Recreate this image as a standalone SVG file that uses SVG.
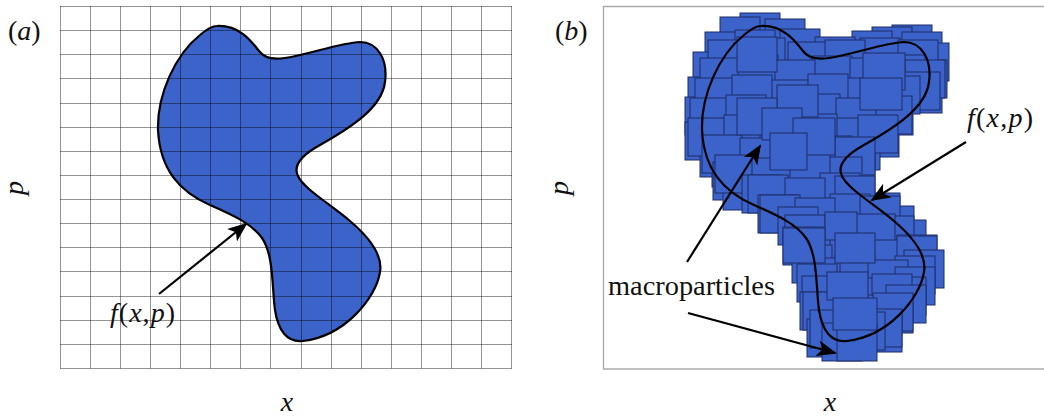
<svg xmlns="http://www.w3.org/2000/svg" width="1044" height="419" viewBox="0 0 1044 419">
<style>
.t{font-family:"Liberation Serif","Times New Roman",serif;font-size:28px;fill:#111}
.i{font-style:italic}
.grid{stroke:#000;stroke-opacity:0.42;stroke-width:1;fill:none}
.mp rect{fill:#3B63C9;stroke:#1E2D66;stroke-width:1}
.con{stroke:#000;stroke-width:2.2;fill:none}
</style>
<defs>
<path id="blob" d="M217,26 C240,25 252,42 259,51 C264,58 272,60 285,58 C310,54 340,43 360,42 C378,42 388,60 385,82 C382,108 350,128 320,145 C300,156 293,166 298,176 C303,188 330,204 350,221 C370,238 383,255 380,272 C376,298 345,336 303,341 C287,343 278,330 275,310 C272,290 274,255 262,238 C252,224 235,216 210,205 C180,192 160,170 158,130 C157,95 175,55 200,35 C207,29 212,26 217,26 Z"/>
<marker id="ah" viewBox="0 0 20 16" refX="18" refY="8" markerWidth="20" markerHeight="16" markerUnits="userSpaceOnUse" orient="auto">
<path d="M0,0 L20,8 L0,16 L5,8 Z" fill="#000"/>
</marker>
</defs>
<rect width="1044" height="419" fill="#fff"/>

<g id="panel-a">
<use href="#blob" fill="#3B63C9" stroke="none"/>
<path class="grid" d="M60.5,6V368.5M90.5,6V368.5M120.5,6V368.5M150.5,6V368.5M180.5,6V368.5M210.5,6V368.5M240.5,6V368.5M270.5,6V368.5M301.5,6V368.5M331.5,6V368.5M361.5,6V368.5M391.5,6V368.5M421.5,6V368.5M451.5,6V368.5M481.5,6V368.5M511.5,6V368.5M60,6.5H512M60,30.5H512M60,54.5H512M60,78.5H512M60,103.5H512M60,127.5H512M60,151.5H512M60,175.5H512M60,199.5H512M60,223.5H512M60,247.5H512M60,271.5H512M60,296.5H512M60,320.5H512M60,344.5H512M60,368.5H512"/>
<use href="#blob" fill="none" stroke="#000" stroke-width="2.2"/>
<text class="t" x="8" y="40">(<tspan class="i">a</tspan>)</text>
<text class="t i" transform="translate(23,188) rotate(-90)" text-anchor="middle">p</text>
<text class="t i" x="287" y="411" text-anchor="middle">x</text>
<text class="t" x="110" y="322" textLength="65" lengthAdjust="spacing"><tspan class="i">f</tspan>(<tspan class="i">x</tspan>,<tspan class="i">p</tspan>)</text>
</g>

<g id="panel-b">
<path d="M1046,6.5H603.5V369H1046" fill="none" stroke="#aaa" stroke-width="1.3"/>
<g id="macroparticles" class="mp">
<rect x="740" y="13" width="40" height="38"/>
<rect x="720" y="17" width="40" height="38"/>
<rect x="892" y="25" width="40" height="38"/>
<rect x="765" y="19" width="40" height="38"/>
<rect x="872" y="27" width="40" height="38"/>
<rect x="780" y="29" width="40" height="38"/>
<rect x="852" y="31" width="40" height="38"/>
<rect x="902" y="32" width="40" height="38"/>
<rect x="815" y="37" width="40" height="38"/>
<rect x="705" y="32" width="40" height="38"/>
<rect x="909" y="43" width="40" height="38"/>
<rect x="735" y="30" width="40" height="38"/>
<rect x="693" y="52" width="40" height="38"/>
<rect x="907" y="60" width="40" height="38"/>
<rect x="788" y="42" width="40" height="38"/>
<rect x="708" y="40" width="40" height="38"/>
<rect x="860" y="38" width="40" height="38"/>
<rect x="745" y="38" width="40" height="38"/>
<rect x="898" y="40" width="40" height="38"/>
<rect x="825" y="40" width="40" height="38"/>
<rect x="688" y="77" width="40" height="38"/>
<rect x="902" y="75" width="40" height="38"/>
<rect x="812" y="56" width="40" height="38"/>
<rect x="700" y="58" width="40" height="38"/>
<rect x="885" y="55" width="40" height="38"/>
<rect x="738" y="55" width="40" height="38"/>
<rect x="905" y="60" width="40" height="38"/>
<rect x="850" y="58" width="40" height="38"/>
<rect x="775" y="60" width="40" height="38"/>
<rect x="685" y="97" width="40" height="38"/>
<rect x="873" y="97" width="40" height="38"/>
<rect x="695" y="78" width="40" height="38"/>
<rect x="846" y="78" width="40" height="38"/>
<rect x="770" y="80" width="40" height="38"/>
<rect x="900" y="72" width="40" height="38"/>
<rect x="732" y="75" width="40" height="38"/>
<rect x="808" y="74" width="40" height="38"/>
<rect x="880" y="76" width="40" height="38"/>
<rect x="685" y="122" width="40" height="38"/>
<rect x="859" y="119" width="40" height="38"/>
<rect x="690" y="98" width="40" height="38"/>
<rect x="800" y="94" width="40" height="38"/>
<rect x="872" y="96" width="40" height="38"/>
<rect x="726" y="95" width="40" height="38"/>
<rect x="836" y="98" width="40" height="38"/>
<rect x="762" y="100" width="40" height="38"/>
<rect x="840" y="132" width="40" height="38"/>
<rect x="700" y="139" width="40" height="38"/>
<rect x="688" y="118" width="40" height="38"/>
<rect x="832" y="118" width="40" height="38"/>
<rect x="724" y="115" width="40" height="38"/>
<rect x="858" y="115" width="40" height="38"/>
<rect x="797" y="114" width="40" height="38"/>
<rect x="760" y="120" width="42" height="40"/>
<rect x="712" y="149" width="40" height="38"/>
<rect x="835" y="155" width="40" height="38"/>
<rect x="702" y="135" width="40" height="38"/>
<rect x="812" y="136" width="40" height="38"/>
<rect x="740" y="138" width="40" height="38"/>
<rect x="835" y="137" width="40" height="38"/>
<rect x="776" y="134" width="40" height="38"/>
<rect x="713" y="162" width="40" height="38"/>
<rect x="723" y="172" width="40" height="38"/>
<rect x="715" y="155" width="40" height="38"/>
<rect x="822" y="157" width="40" height="38"/>
<rect x="752" y="158" width="40" height="38"/>
<rect x="790" y="154" width="40" height="38"/>
<rect x="742" y="175" width="40" height="38"/>
<rect x="860" y="193" width="40" height="38"/>
<rect x="820" y="173" width="40" height="38"/>
<rect x="748" y="175" width="40" height="38"/>
<rect x="835" y="176" width="40" height="38"/>
<rect x="785" y="178" width="40" height="38"/>
<rect x="758" y="195" width="40" height="38"/>
<rect x="874" y="206" width="40" height="38"/>
<rect x="830" y="194" width="40" height="38"/>
<rect x="760" y="195" width="40" height="38"/>
<rect x="860" y="196" width="40" height="38"/>
<rect x="795" y="198" width="40" height="38"/>
<rect x="778" y="207" width="40" height="38"/>
<rect x="886" y="220" width="40" height="38"/>
<rect x="820" y="218" width="40" height="38"/>
<rect x="874" y="216" width="40" height="38"/>
<rect x="785" y="215" width="40" height="38"/>
<rect x="855" y="214" width="40" height="38"/>
<rect x="783" y="227" width="40" height="38"/>
<rect x="897" y="235" width="40" height="38"/>
<rect x="865" y="240" width="40" height="38"/>
<rect x="794" y="238" width="40" height="38"/>
<rect x="897" y="236" width="40" height="38"/>
<rect x="830" y="235" width="40" height="38"/>
<rect x="792" y="245" width="40" height="38"/>
<rect x="904" y="250" width="40" height="38"/>
<rect x="835" y="255" width="40" height="38"/>
<rect x="895" y="256" width="40" height="38"/>
<rect x="800" y="258" width="40" height="38"/>
<rect x="868" y="260" width="40" height="38"/>
<rect x="797" y="264" width="40" height="38"/>
<rect x="895" y="267" width="40" height="38"/>
<rect x="838" y="278" width="40" height="38"/>
<rect x="886" y="277" width="40" height="38"/>
<rect x="802" y="276" width="40" height="38"/>
<rect x="872" y="274" width="40" height="38"/>
<rect x="886" y="285" width="40" height="38"/>
<rect x="800" y="292" width="40" height="38"/>
<rect x="873" y="295" width="40" height="38"/>
<rect x="838" y="295" width="40" height="38"/>
<rect x="803" y="292" width="40" height="38"/>
<rect x="873" y="293" width="40" height="38"/>
<rect x="807" y="319" width="40" height="38"/>
<rect x="862" y="314" width="40" height="38"/>
<rect x="810" y="310" width="40" height="38"/>
<rect x="862" y="309" width="40" height="38"/>
<rect x="845" y="312" width="40" height="38"/>
<rect x="822" y="323" width="40" height="38"/>
<rect x="837" y="323" width="40" height="38"/>
<rect x="737" y="37" width="40" height="35"/>
<rect x="863" y="53" width="42" height="37"/>
<rect x="777" y="85" width="41" height="32"/>
<rect x="860" y="78" width="42" height="32"/>
<rect x="737" y="98" width="40" height="37"/>
<rect x="762" y="108" width="40" height="32"/>
<rect x="793" y="118" width="42" height="37"/>
<rect x="770" y="133" width="37" height="37"/>
<rect x="825" y="212" width="32" height="28"/>
<rect x="783" y="228" width="42" height="35"/>
<rect x="835" y="233" width="40" height="30"/>
<rect x="827" y="272" width="41" height="28"/>
<rect x="833" y="298" width="44" height="32"/>
</g>
<use href="#blob" transform="translate(544,0)" fill="none" stroke="#000" stroke-width="2.2"/>
<text class="t" x="555" y="40">(<tspan class="i">b</tspan>)</text>
<text class="t i" transform="translate(568,188) rotate(-90)" text-anchor="middle">p</text>
<text class="t i" x="830" y="411" text-anchor="middle">x</text>
<text class="t" x="967" y="127" textLength="66" lengthAdjust="spacing"><tspan class="i">f</tspan>(<tspan class="i">x</tspan>,<tspan class="i">p</tspan>)</text>
<text class="t" x="608" y="295" textLength="167" lengthAdjust="spacingAndGlyphs">macroparticles</text>
</g>

<g id="connectors">
<line class="con" x1="159" y1="294" x2="246" y2="224" marker-end="url(#ah)"/>
<line class="con" x1="687" y1="262" x2="760" y2="146" marker-end="url(#ah)"/>
<line class="con" x1="966" y1="142" x2="872" y2="200" marker-end="url(#ah)"/>
<line class="con" x1="688" y1="313" x2="835" y2="353" marker-end="url(#ah)"/>
</g>
</svg>
